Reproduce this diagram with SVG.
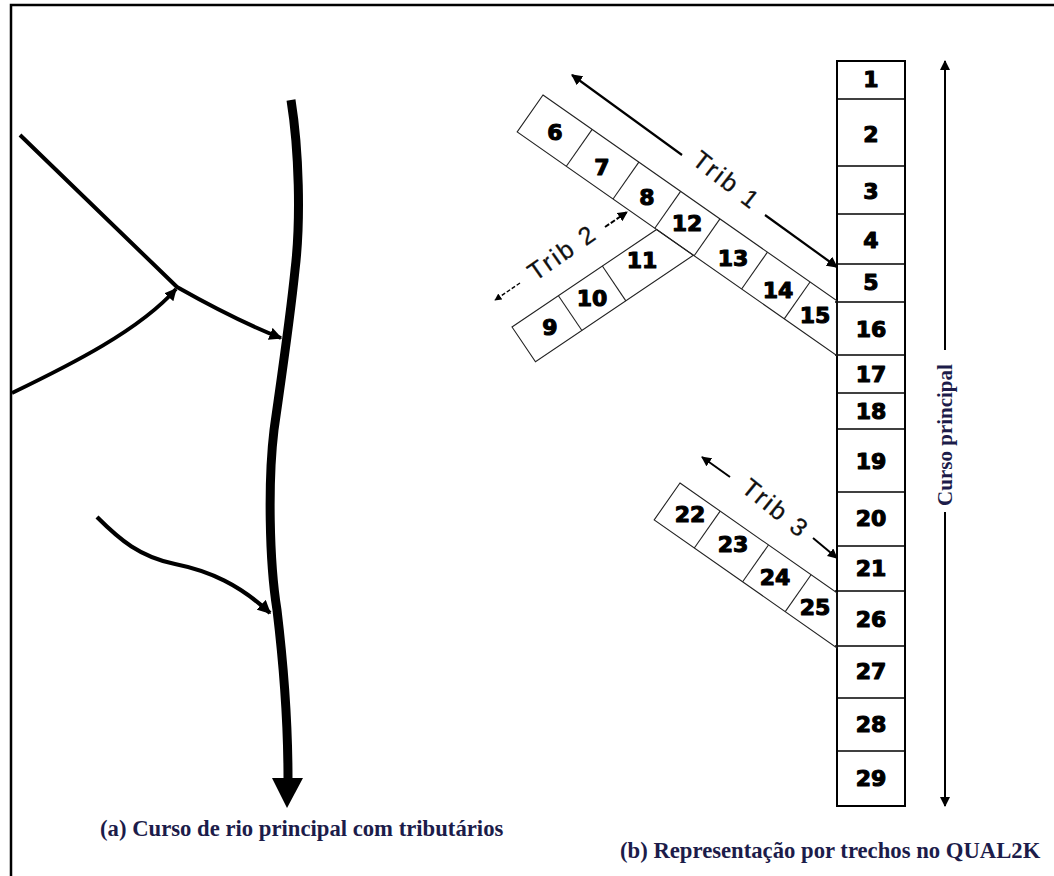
<svg xmlns="http://www.w3.org/2000/svg" width="1054" height="876" viewBox="0 0 1054 876">
<style>
.num{font-family:"DejaVu Sans",sans-serif;font-weight:bold;font-size:22px;fill:#000;stroke:#000;stroke-width:1.1;stroke-linejoin:round;text-anchor:middle}
.trib{font-family:"Liberation Sans",Arial,sans-serif;font-size:25px;letter-spacing:2.5px;fill:#111;stroke:#111;stroke-width:0.3;text-anchor:middle;dominant-baseline:central}
.cap{font-family:"Liberation Serif","Times New Roman",serif;font-weight:bold;font-size:22.7px;fill:#1c1c4a}
.strip{fill:none;stroke:#222;stroke-width:1.1}
.div{stroke:#222;stroke-width:1.1}
.col{fill:#fff;stroke:#000;stroke-width:2}
.cdiv{stroke:#000;stroke-width:1.6}
.riv{fill:none;stroke:#000;stroke-linejoin:round;stroke-linecap:butt}
</style>
<defs>
<marker id="ah" viewBox="0 0 10 10" refX="9" refY="5" markerWidth="3.2" markerHeight="3.2" orient="auto">
<path d="M0,0 L10,5 L0,10 z" fill="#000"/>
</marker>
<marker id="ah2" viewBox="0 0 10 10" refX="9" refY="5" markerWidth="5" markerHeight="5" orient="auto">
<path d="M0,0 L10,5 L0,10 z" fill="#000"/>
</marker>
</defs>
<rect width="1054" height="876" fill="#fff"/>
<path d="M11,876 V5 H1054" fill="none" stroke="#000" stroke-width="2.5"/>

<g id="river-a">
<path class="riv" d="M291,100 C299,150 301,220 295,270 C290,320 281,380 274,430 C268,480 269,560 277,610 C283,660 288,720 288,779" stroke-width="9"/>
<polygon points="272,778 303,778 287,808" fill="#000"/>
<path class="riv" d="M20,135 L177,287 C200,300 240,322 281,338" stroke-width="4" marker-end="url(#ah)"/>
<path class="riv" d="M12,393 C70,365 140,330 176,289" stroke-width="3.8" marker-end="url(#ah)"/>
<path class="riv" d="M97,517 C120,540 140,557 175,564 C210,571 240,585 270,613" stroke-width="4.2" marker-end="url(#ah)"/>
</g>

<g id="main-column">
<rect class="col" x="837" y="61" width="68" height="745"/>
<g class="cdiv">
<line x1="837" y1="99" x2="905" y2="99"/>
<line x1="837" y1="166" x2="905" y2="166"/>
<line x1="837" y1="214" x2="905" y2="214"/>
<line x1="837" y1="264" x2="905" y2="264"/>
<line x1="835" y1="302" x2="905" y2="302"/>
<line x1="835" y1="355" x2="905" y2="355"/>
<line x1="837" y1="393" x2="905" y2="393"/>
<line x1="837" y1="429" x2="905" y2="429"/>
<line x1="837" y1="492" x2="905" y2="492"/>
<line x1="837" y1="546" x2="905" y2="546"/>
<line x1="835" y1="591" x2="905" y2="591"/>
<line x1="835" y1="646" x2="905" y2="646"/>
<line x1="837" y1="698" x2="905" y2="698"/>
<line x1="837" y1="751" x2="905" y2="751"/>
</g>
<text class="num" x="871" y="87">1</text>
<text class="num" x="871" y="142">2</text>
<text class="num" x="871" y="199">3</text>
<text class="num" x="871" y="248">4</text>
<text class="num" x="871" y="290">5</text>
<text class="num" x="871" y="337">16</text>
<text class="num" x="871" y="382">17</text>
<text class="num" x="871" y="419">18</text>
<text class="num" x="871" y="469">19</text>
<text class="num" x="871" y="526">20</text>
<text class="num" x="871" y="576">21</text>
<text class="num" x="871" y="627">26</text>
<text class="num" x="871" y="679">27</text>
<text class="num" x="871" y="732">28</text>
<text class="num" x="871" y="786">29</text>
</g>

<g id="trib2">
<g transform="translate(512,327) rotate(-34)">
<polygon class="strip" points="0,0 174.4,0 190.5,42 0,42"/>
<line class="div" x1="56" y1="0" x2="56" y2="42"/>
<line class="div" x1="109" y1="0" x2="109" y2="42"/>
</g>
<text class="num" x="550" y="335">9</text>
<text class="num" x="592" y="306">10</text>
<text class="num" x="642" y="268">11</text>
</g>

<g id="trib1">
<g transform="translate(543,95) rotate(35)">
<polygon class="strip" points="0,0 358.9,0 390.4,45 0,45"/>
<line class="div" x1="60" y1="0" x2="60" y2="45"/>
<line class="div" x1="117" y1="0" x2="117" y2="45"/>
<line class="div" x1="168" y1="0" x2="168" y2="45"/>
<line class="div" x1="216" y1="0" x2="216" y2="45"/>
<line class="div" x1="274" y1="0" x2="274" y2="45"/>
<line class="div" x1="326" y1="0" x2="326" y2="45"/>
</g>
<text class="num" x="555" y="140">6</text>
<text class="num" x="602" y="175">7</text>
<text class="num" x="647" y="205">8</text>
<text class="num" x="687" y="231">12</text>
<text class="num" x="733" y="266">13</text>
<text class="num" x="778" y="298">14</text>
<text class="num" x="815" y="323">15</text>
</g>

<g id="trib3">
<g transform="translate(680,483) rotate(35)">
<polygon class="strip" points="0,0 191.6,0 223.1,45 0,45"/>
<line class="div" x1="49" y1="0" x2="49" y2="45"/>
<line class="div" x1="108" y1="0" x2="108" y2="45"/>
<line class="div" x1="160" y1="0" x2="160" y2="45"/>
</g>
<text class="num" x="690" y="522">22</text>
<text class="num" x="733" y="552">23</text>
<text class="num" x="775" y="585">24</text>
<text class="num" x="815" y="615">25</text>
</g>

<g id="connectors" fill="none" stroke="#000">
<line x1="682" y1="155" x2="572" y2="75" stroke-width="2.2" marker-end="url(#ah2)"/>
<line x1="765" y1="215" x2="837" y2="267" stroke-width="2.2" marker-end="url(#ah2)"/>
<line x1="605" y1="227" x2="627" y2="212" stroke-width="2" stroke-dasharray="5 2" marker-end="url(#ah2)"/>
<line x1="520" y1="283" x2="495" y2="300" stroke-width="1.4" stroke-dasharray="4 2" marker-end="url(#ah2)"/>
<line x1="730" y1="477" x2="702" y2="457" stroke-width="2" marker-end="url(#ah2)"/>
<line x1="813" y1="538" x2="837" y2="558" stroke-width="2" marker-end="url(#ah2)"/>
<line x1="945" y1="350" x2="945" y2="61" stroke-width="2" marker-end="url(#ah2)"/>
<line x1="945" y1="512" x2="945" y2="806" stroke-width="2" marker-end="url(#ah2)"/>
</g>

<g id="labels">
<text class="trib" transform="translate(727,180) rotate(38)">Trib 1</text>
<text class="trib" transform="translate(562,252) rotate(-35)">Trib 2</text>
<text class="trib" transform="translate(776,508) rotate(39)">Trib 3</text>
<text class="cap" transform="translate(945,435) rotate(-90)" text-anchor="middle" dominant-baseline="central" style="font-size:21px">Curso principal</text>
<text class="cap" x="100" y="836">(a) Curso de rio principal com tributários</text>
<text class="cap" x="620" y="858">(b) Representação por trechos no QUAL2K</text>
</g>
</svg>
